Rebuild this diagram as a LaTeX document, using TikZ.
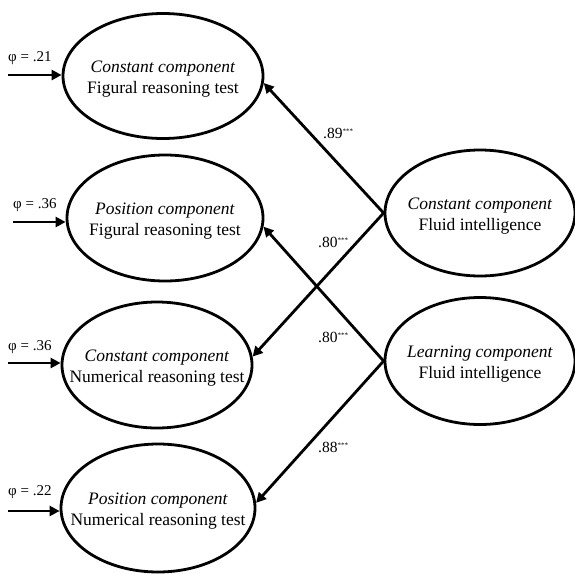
\documentclass[tikz,border=0pt]{standalone}
\usepackage{fontspec}
\setmainfont{Liberation Serif}
\usetikzlibrary{shapes.geometric,arrows.meta}
\newcommand{\sigstars}{\raisebox{5pt}{\fontsize{7}{7}\selectfont ***}}
\begin{document}
\begin{tikzpicture}[x=1pt,y=-1pt,
  lat/.style={ellipse,draw,line width=2.8pt,inner sep=0pt},
  lattext/.style={align=center,inner sep=0pt,yshift=-3pt,font=\fontsize{17.5}{21.5}\selectfont},
  conn/.style={line width=2.8pt,-{Triangle[length=10pt,width=10pt]}},
  lbl/.style={font=\fontsize{15}{17}\selectfont,inner sep=0pt,anchor=west},
  coef/.style={font=\fontsize{15.5}{17}\selectfont,inner sep=0pt,anchor=west}]
\useasboundingbox (0,0) rectangle (575,573);
\node[lat,minimum width=200pt,minimum height=125pt,label={[lattext]center:{\textit{Constant component}\\Figural reasoning test}}] (e1) at (163,76) {};
\node[lat,minimum width=196pt,minimum height=126pt,label={[lattext]center:{\textit{Position component}\\Figural reasoning test}}] (e2) at (165,218) {};
\node[lat,minimum width=190pt,minimum height=126pt,label={[lattext]center:{\textit{Constant component}\\Numerical reasoning test}}] (e3) at (157,365) {};
\node[lat,minimum width=194pt,minimum height=128pt,label={[lattext]center:{\textit{Position component}\\Numerical reasoning test}}] (e4) at (158,508) {};
\node[lat,minimum width=190pt,minimum height=126pt,label={[lattext]center:{\textit{Constant component}\\Fluid intelligence}}] (f1) at (480,213) {};
\node[lat,minimum width=190pt,minimum height=127pt,label={[lattext]center:{\textit{Learning component}\\Fluid intelligence}}] (f2) at (480,361) {};
\coordinate (s1) at (8,75);
\coordinate (s2) at (13,222);
\coordinate (s3) at (8,363);
\coordinate (s4) at (8,511);
\draw[conn] (s1) -- (e1.west |- s1);
\draw[conn] (s2) -- (e2.west |- s2);
\draw[conn] (s3) -- (e3.west |- s3);
\draw[conn] (s4) -- (e4.west |- s4);
\node[lbl] (p1) at (8,58) {φ = .21};
\node[lbl] (p2) at (13,205) {φ = .36};
\node[lbl] (p3) at (8,347) {φ = .36};
\node[lbl] (p4) at (8,492) {φ = .22};
\draw[conn] (f1.west) -- (e1.-4);
\draw[conn] (f1.west) -- (e3.5);
\draw[conn] (f2.west) -- (e2.-5);
\draw[conn] (f2.west) -- (e4.3);
\node[coef] (l1) at (323,133) {.89\sigstars};
\node[coef] (l2) at (318,242) {.80\sigstars};
\node[coef] (l3) at (318,337) {.80\sigstars};
\node[coef] (l4) at (318,447) {.88\sigstars};
\end{tikzpicture}
\end{document}
